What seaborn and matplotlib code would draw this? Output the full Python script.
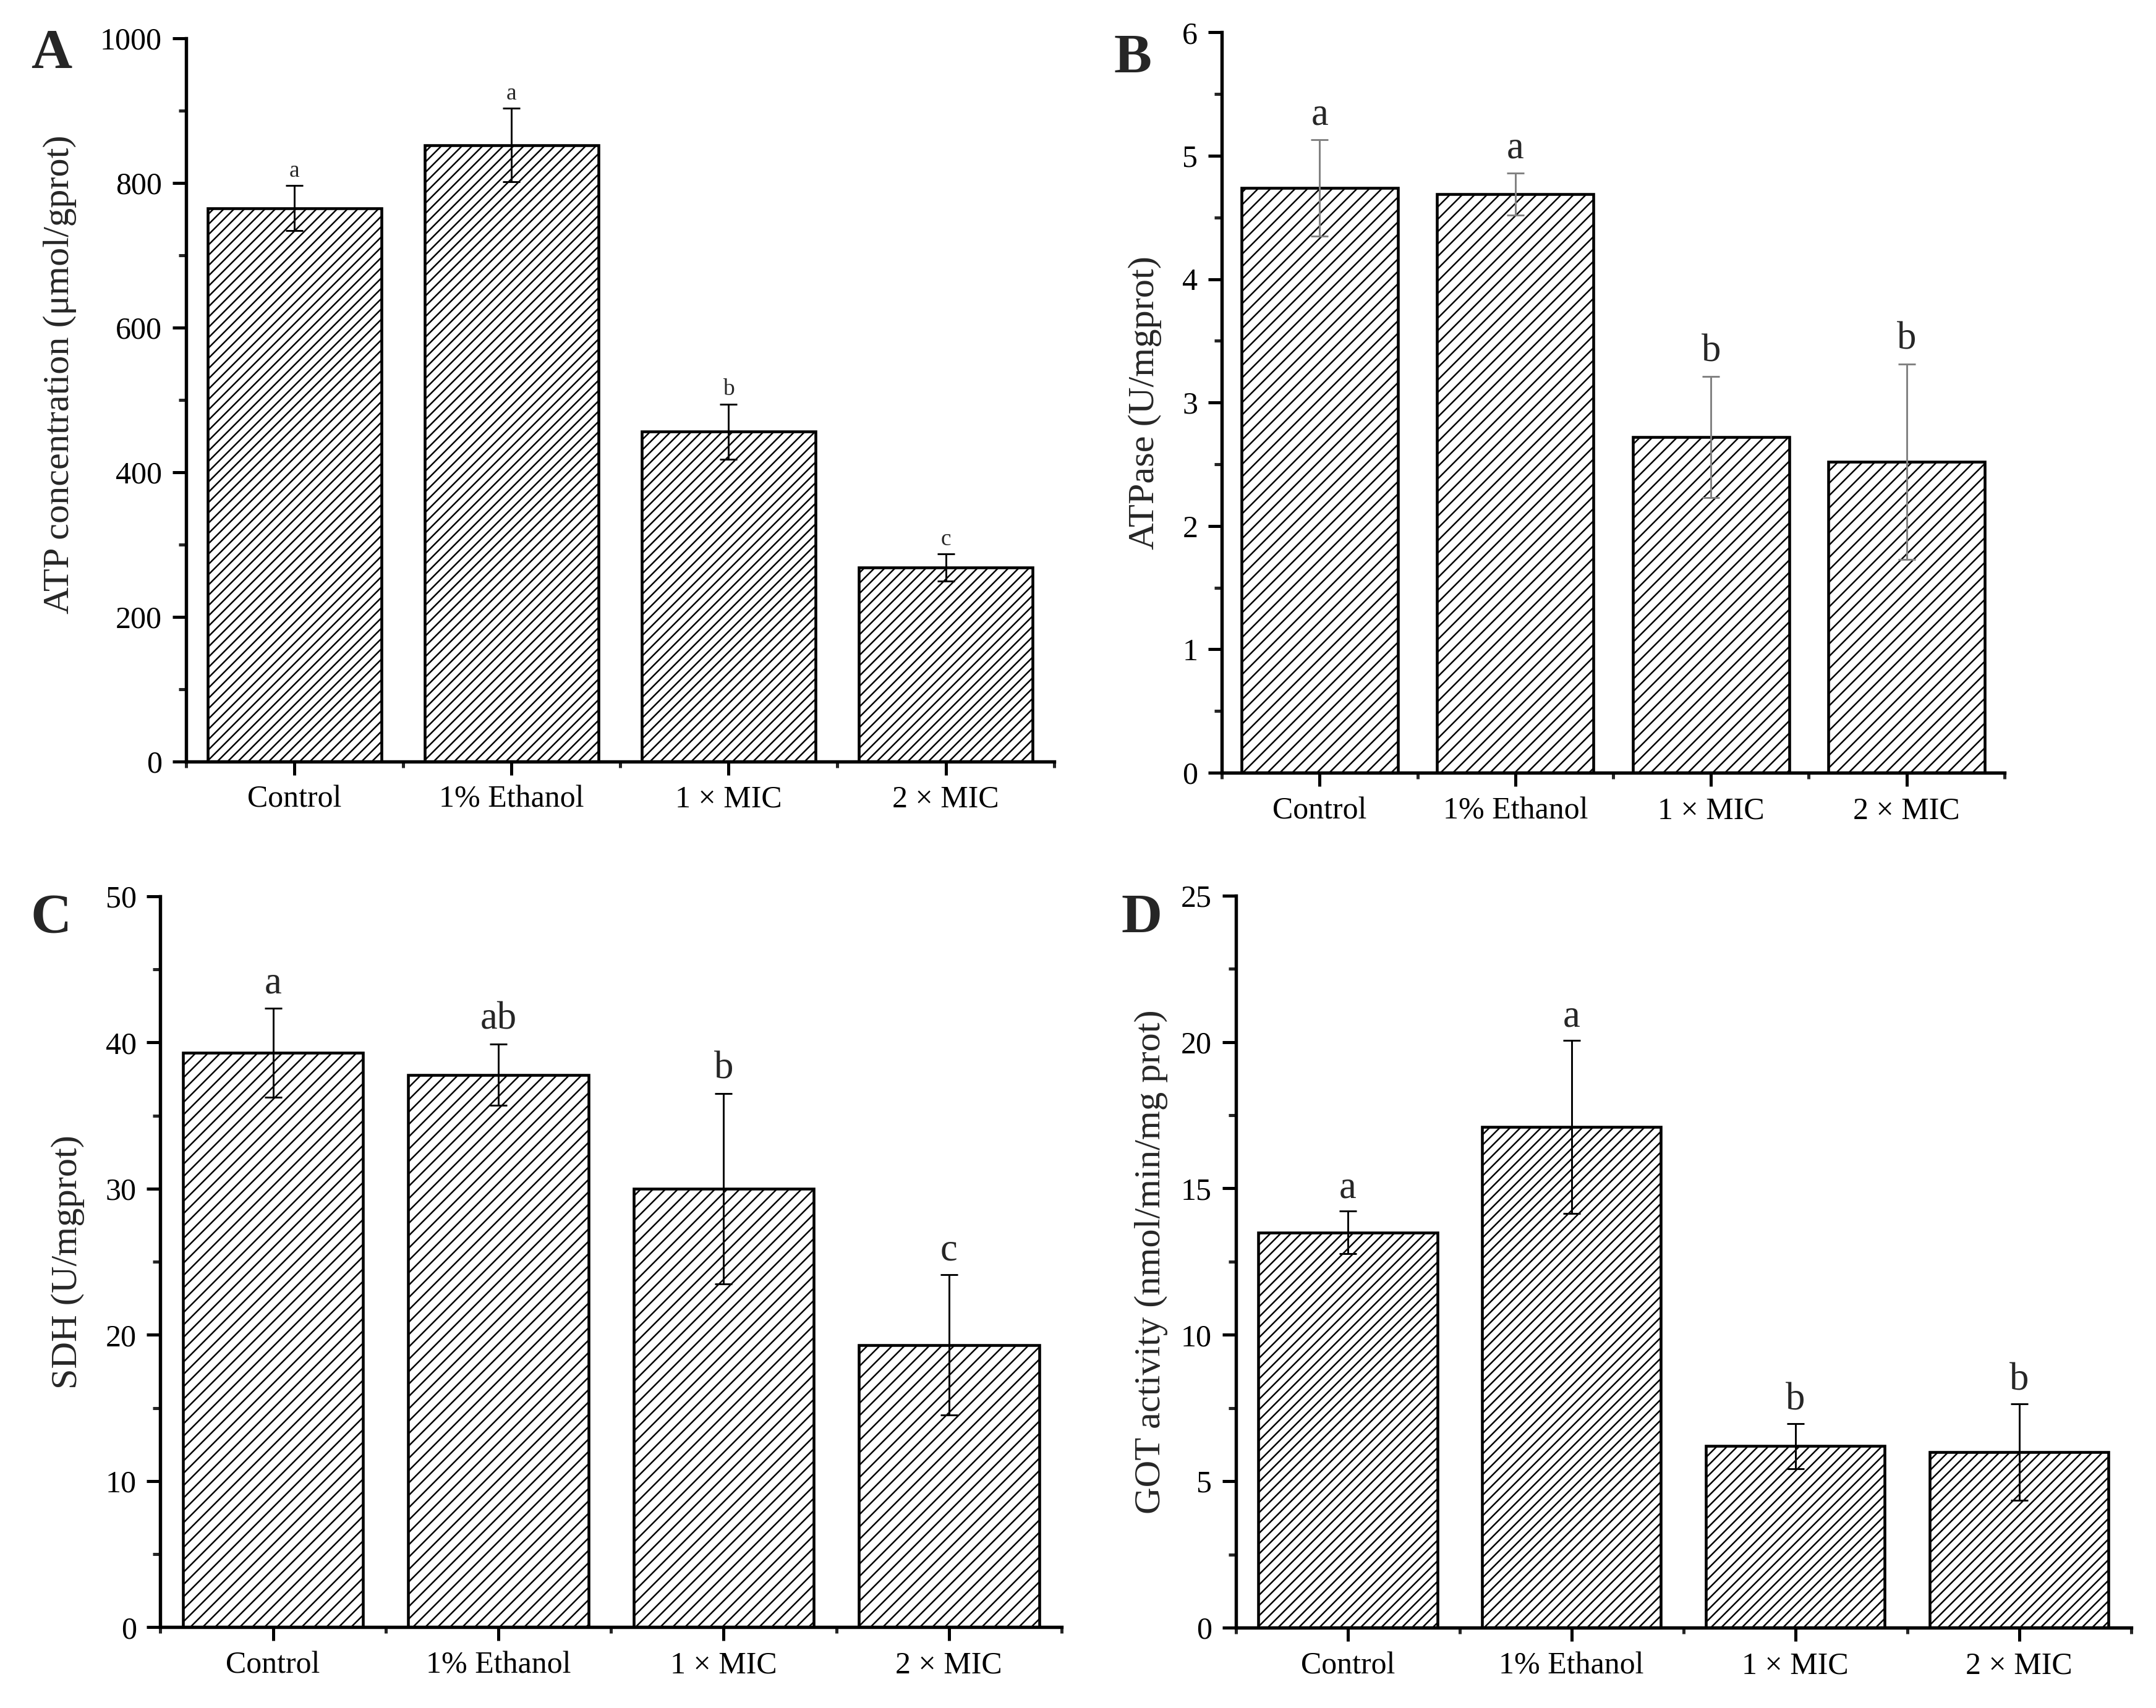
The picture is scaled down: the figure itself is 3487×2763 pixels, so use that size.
import numpy as np
import matplotlib
matplotlib.use("Agg")
import matplotlib.pyplot as plt
from matplotlib.ticker import AutoMinorLocator
import seaborn as sns

# categories shared by all four panels
categories = ['Control', '1% Ethanol', '1 × MIC', '2 × MIC']

# A - ATP concentration
atp_mean = [765, 852, 456, 268]
atp_err = [31, 51, 38, 19]
atp_letters = ['a', 'a', 'b', 'c']

# B - ATPase
atpase_mean = [4.74, 4.69, 2.72, 2.52]
atpase_err = [0.39, 0.17, 0.49, 0.79]
atpase_letters = ['a', 'a', 'b', 'b']

# C - SDH
sdh_mean = [39.3, 37.8, 30.0, 19.3]
sdh_err = [3.05, 2.08, 6.5, 4.8]
sdh_letters = ['a', 'ab', 'b', 'c']

# D - GOT activity
got_mean = [13.5, 17.1, 6.2, 6.0]
got_err = [0.72, 2.95, 0.77, 1.64]
got_letters = ['a', 'a', 'b', 'b']

sns.set_theme(style='ticks')
plt.rcParams['font.family'] = ['Liberation Serif', 'DejaVu Serif']
plt.rcParams['hatch.linewidth'] = 0.6
plt.rcParams['axes.linewidth'] = 1.3


def draw_panel(ax, means, errs, letters, ylabel, ymax, step, hatch,
               ecolor='black', letter_size=15, letter_pad=3, labelpad=10):
    sns.barplot(x=categories, y=means, ax=ax, color='white', edgecolor='black',
                linewidth=1.1, width=0.8, errorbar=None, saturation=1)
    for patch in ax.patches:
        patch.set_facecolor('white')
        patch.set_edgecolor('black')
        patch.set_hatch(hatch)

    xs = np.arange(len(categories))
    ax.errorbar(xs, means, yerr=errs, fmt='none', ecolor=ecolor,
                elinewidth=0.7, capsize=3.3, capthick=0.7, zorder=3)

    for x, m, e, lab in zip(xs, means, errs, letters):
        ax.annotate(lab, (x, m + e), xytext=(0, letter_pad), textcoords='offset points',
                    ha='center', va='bottom', fontsize=letter_size)

    ax.set_xlim(-0.5, 3.5)
    ax.set_ylim(0, ymax)
    ax.set_yticks(np.arange(0, ymax + step / 2, step))
    ax.yaxis.set_minor_locator(AutoMinorLocator(2))
    ax.set_xticks([-0.5, 0.5, 1.5, 2.5, 3.5], minor=True)
    ax.tick_params(axis='both', which='major', direction='out', length=5.3,
                   width=1.2, labelsize=12, pad=4, color='black', labelcolor='black')
    ax.tick_params(axis='y', which='minor', direction='out', length=2.8, width=1.2,
                   left=True)
    ax.tick_params(axis='x', which='minor', direction='out', length=2.4, width=1.2,
                   bottom=True)
    ax.set_xlabel('')
    ax.set_ylabel(ylabel, fontsize=14.5, labelpad=labelpad)
    sns.despine(ax=ax)
    for s in ['left', 'bottom']:
        ax.spines[s].set_linewidth(1.3)
        ax.spines[s].set_color('black')


fig = plt.figure(figsize=(3487 / 300, 2763 / 300), dpi=300)
fig.patch.set_facecolor('white')

ax_a = fig.add_axes([0.0862, 0.5542, 0.4028, 0.4235])
ax_b = fig.add_axes([0.5667, 0.5476, 0.3630, 0.4334])
ax_c = fig.add_axes([0.0744, 0.0473, 0.4180, 0.4279])
ax_d = fig.add_axes([0.5732, 0.0470, 0.4152, 0.4287])

draw_panel(ax_a, atp_mean, atp_err, atp_letters,
           'ATP concentration (μmol/gprot)', 1000, 200, '//////',
           letter_size=9, letter_pad=1.5, labelpad=9)
draw_panel(ax_b, atpase_mean, atpase_err, atpase_letters,
           'ATPase (U/mgprot)', 6, 1, '/////',
           ecolor='#808080', letter_size=15, letter_pad=2.5, labelpad=8)
draw_panel(ax_c, sdh_mean, sdh_err, sdh_letters,
           'SDH (U/mgprot)', 50, 10, '/////',
           letter_size=15, letter_pad=2.5, labelpad=8)
draw_panel(ax_d, got_mean, got_err, got_letters,
           'GOT activity (nmol/min/mg prot)', 25, 5, '//////',
           letter_size=15, letter_pad=2, labelpad=5)

# the ATP label sits a little above the middle of its axis
ax_a.yaxis.label.set_y(0.535)

for txt, (x, y) in zip(['A', 'B', 'C', 'D'],
                       [(0.0143, 0.983), (0.5165, 0.980), (0.0143, 0.4767), (0.520, 0.4767)]):
    fig.text(x, y, txt, fontsize=22, fontweight='bold', ha='left', va='top')

fig.savefig('out.png', dpi=300, facecolor='white')
plt.close(fig)
